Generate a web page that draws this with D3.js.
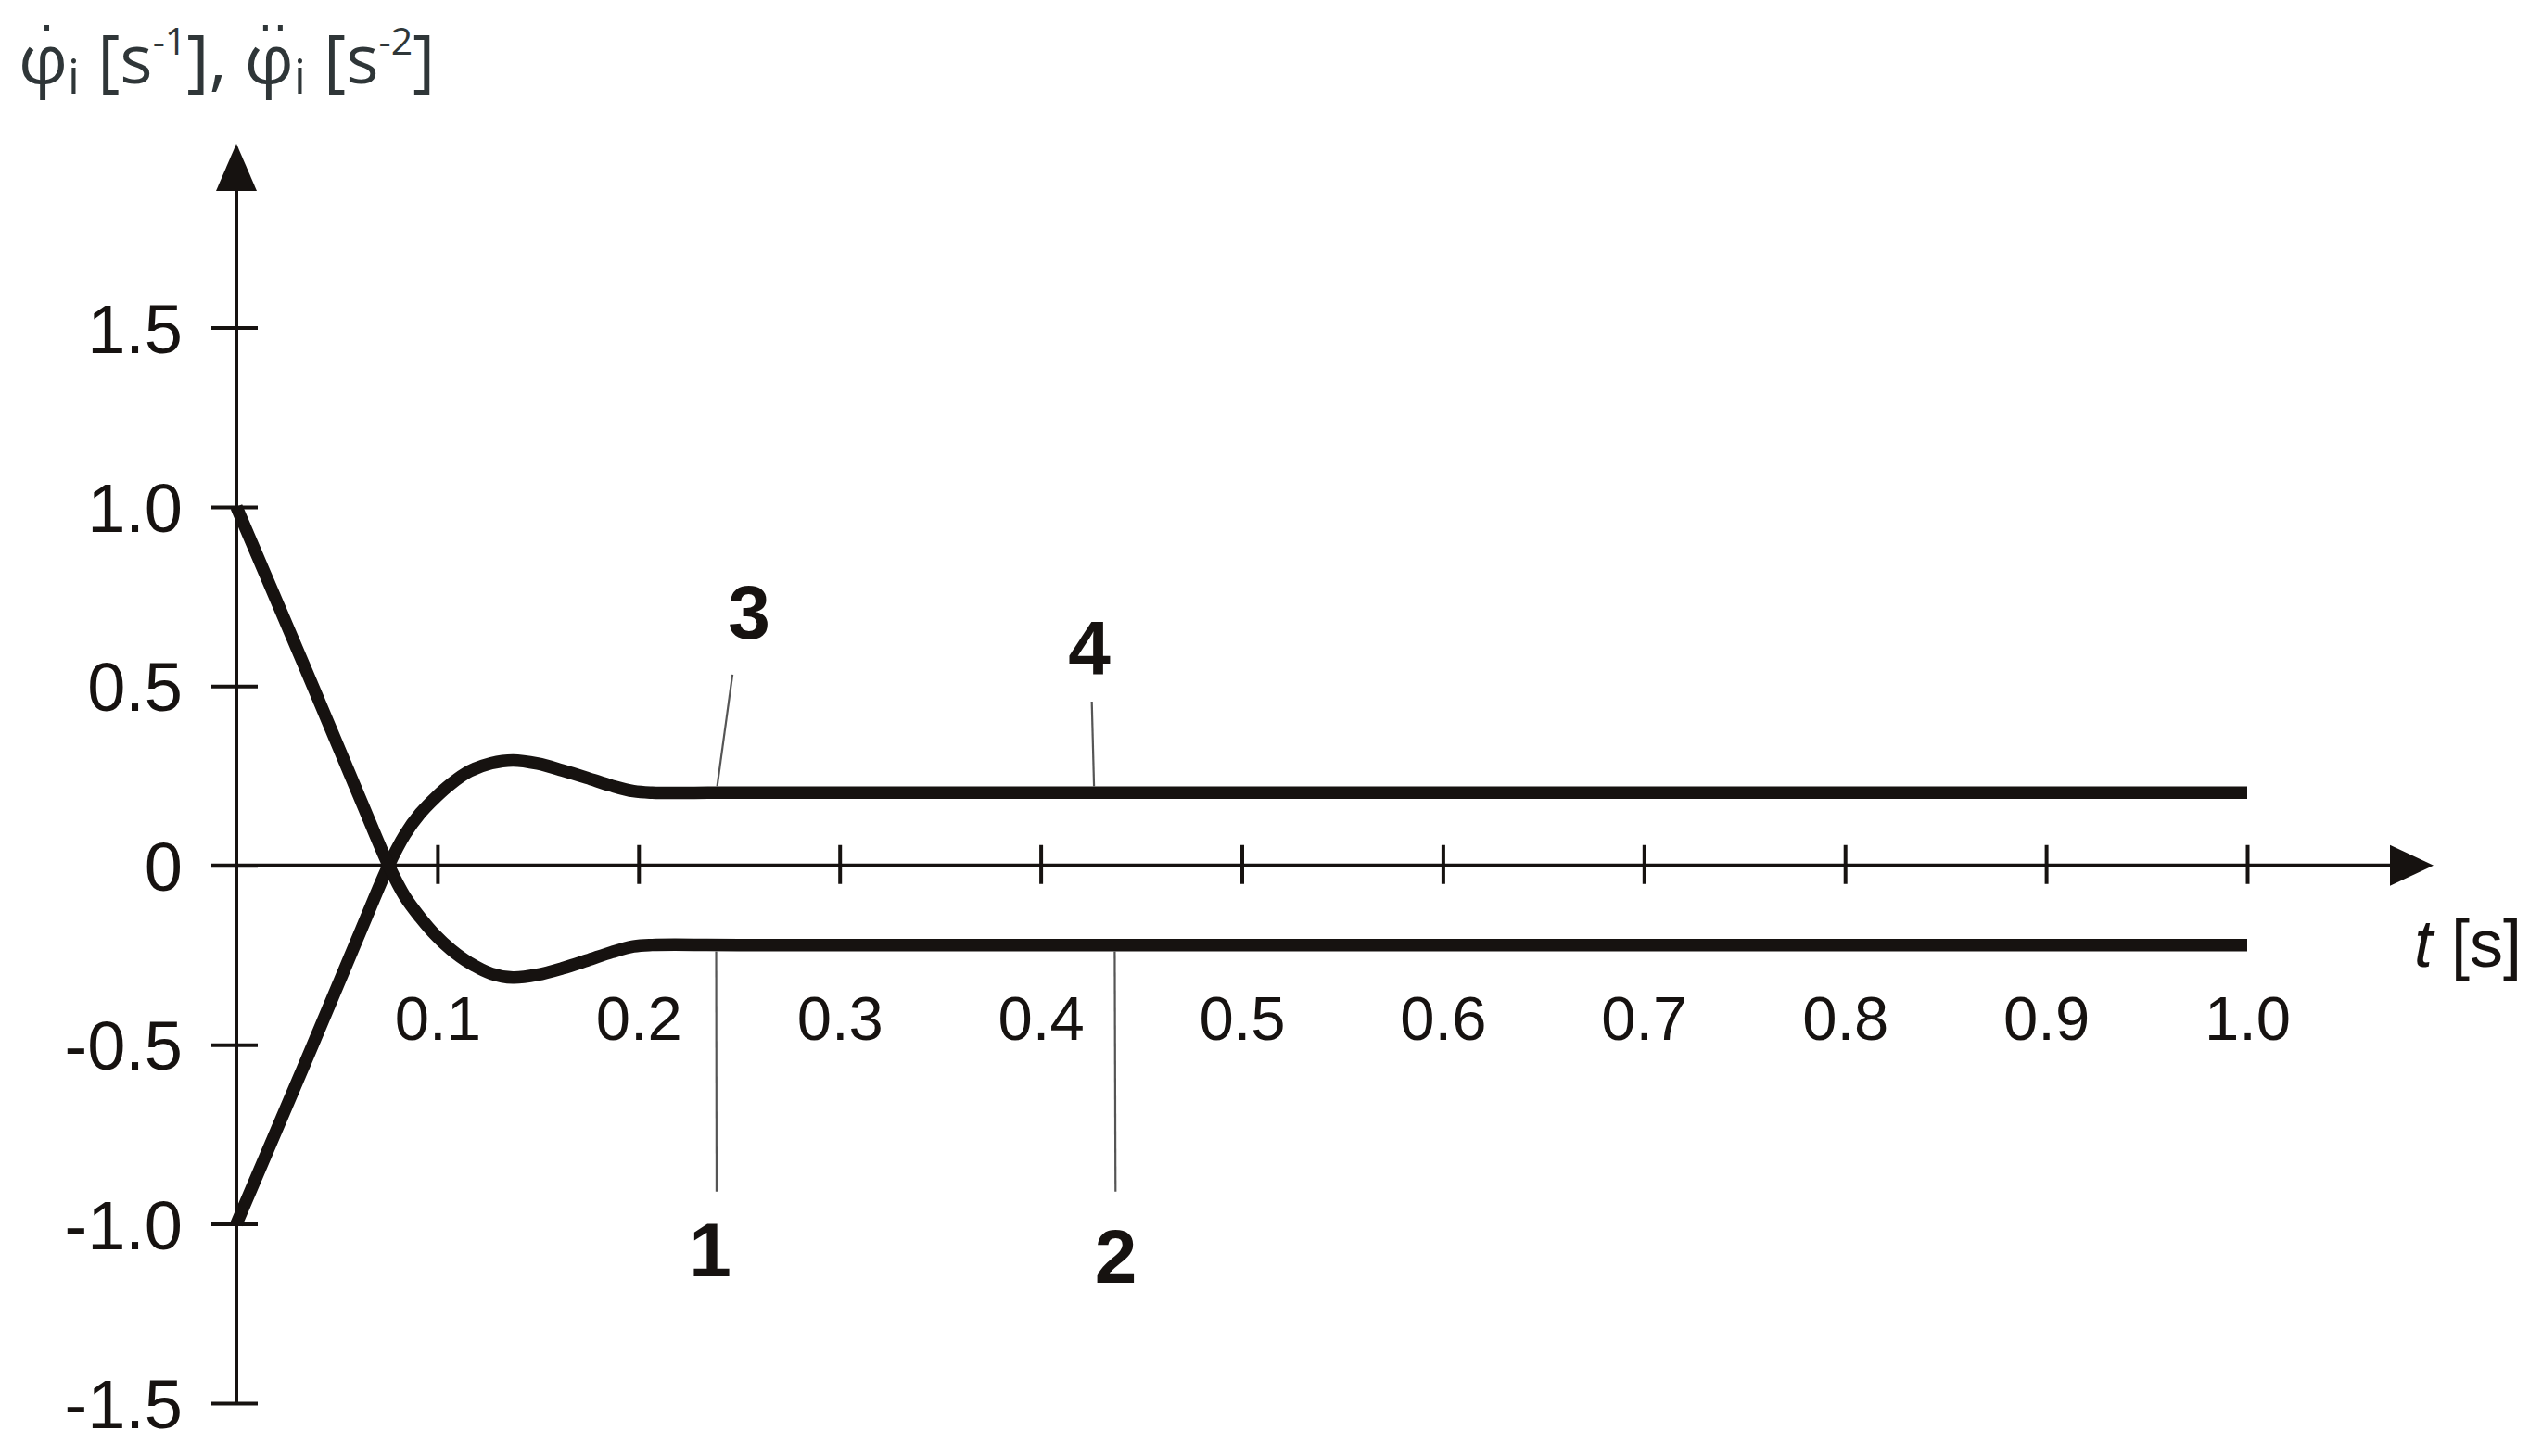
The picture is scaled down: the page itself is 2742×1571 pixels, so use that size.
<!DOCTYPE html>
<html>
<head>
<meta charset="utf-8">
<script src="https://cdn.jsdelivr.net/npm/d3@7"></script>
<style>
  body { margin: 0; background: #fff; }
</style>
</head>
<body>
<svg id="chart" width="2742" height="1571"></svg>
<script>
// tick values and labels
const tTicks = [0.1, 0.2, 0.3, 0.4, 0.5, 0.6, 0.7, 0.8, 0.9, 1.0];
const tTickLabels = ["0.1", "0.2", "0.3", "0.4", "0.5", "0.6", "0.7", "0.8", "0.9", "1.0"];
const vTicks = [-1.5, -1.0, -0.5, 0, 0.5, 1.0, 1.5];
const vTickLabels = ["-1.5", "-1.0", "-0.5", "0", "0.5", "1.0", "1.5"];

// the two curves
const tCurve = [0, 0.035, 0.062, 0.0757, 0.0838, 0.0914, 0.0991, 0.1068, 0.116, 0.1268,
  0.1375, 0.1498, 0.1621, 0.1744, 0.1867, 0.1975, 0.2067, 0.25, 1.0];
const vRising = [-1.0, -0.54, -0.18, 0, 0.086, 0.145, 0.19, 0.228, 0.263, 0.285,
  0.293, 0.284, 0.265, 0.244, 0.222, 0.207, 0.203, 0.203, 0.203];
const vFalling = [1.0, 0.54, 0.18, 0, -0.087, -0.145, -0.195, -0.235, -0.272, -0.302,
  -0.313, -0.305, -0.287, -0.265, -0.242, -0.226, -0.222, -0.222, -0.222];

// numbered callouts: which curve, where the leader starts and ends, where the number sits
const markNames = ["1", "2", "3", "4"];
const markCurve = ["falling", "falling", "rising", "rising"];
const markT = [0.2386, 0.4368, 0.2391, 0.4265];
const markLeaderT = [0.2388, 0.4372, 0.2467, 0.4254];
const markLeaderV = [-0.91, -0.91, 0.532, 0.457];
const markLabelT = [0.2356, 0.4373, 0.255, 0.4242];
const markLabelV = [-1.147, -1.165, 0.632, 0.534];

const svg = d3.select("#chart");
const ink = "#161210";
const numFont = "'Liberation Sans', Arial, sans-serif";
const strokeW = 13.5;

const x = d3.scaleLinear().domain([0, 1]).range([255, 2424]);
const y = d3.scaleLinear().domain([-1.5, 1.5]).range([1514, 353.5]);

// y axis: line with arrow, ticks crossing the line
const y0 = y(0), x0 = x(0);
svg.append("line")
  .attr("x1", x0).attr("x2", x0)
  .attr("y1", y(-1.5)).attr("y2", 200)
  .attr("stroke", ink).attr("stroke-width", 4);
svg.append("path")
  .attr("d", `M${x0},155 L${x0 - 22},206 L${x0 + 22},206 Z`)
  .attr("fill", ink);

const yAxis = svg.append("g")
  .attr("transform", `translate(${x0},0)`)
  .call(d3.axisLeft(y).tickValues(vTicks).tickFormat((d, i) => vTickLabels[i]).tickSize(0));
yAxis.select(".domain").remove();
yAxis.selectAll(".tick line")
  .attr("x1", -27).attr("x2", 23)
  .attr("stroke", ink).attr("stroke-width", 4);
yAxis.selectAll(".tick text")
  .attr("x", -58).attr("dy", "0.36em")
  .attr("font-family", numFont).attr("font-size", 74)
  .attr("fill", ink);

// x axis
svg.append("line")
  .attr("x1", 228).attr("x2", 2590)
  .attr("y1", y0).attr("y2", y0)
  .attr("stroke", ink).attr("stroke-width", 4);
svg.append("path")
  .attr("d", `M2625,${y0} L2578,${y0 - 22} L2578,${y0 + 22} Z`)
  .attr("fill", ink);

const xAxis = svg.append("g")
  .attr("transform", `translate(0,${y0})`)
  .call(d3.axisBottom(x).tickValues(tTicks).tickFormat((d, i) => tTickLabels[i]).tickSize(0));
xAxis.select(".domain").remove();
xAxis.selectAll(".tick line")
  .attr("y1", -22).attr("y2", 20)
  .attr("stroke", ink).attr("stroke-width", 4);
xAxis.selectAll(".tick text")
  .attr("y", 188).attr("dy", null)
  .attr("font-family", numFont).attr("font-size", 67)
  .attr("fill", ink);

// axis titles
const titleColor = "#2f3638";
const title = svg.append("text")
  .attr("x", 20).attr("y", 90)
  .attr("font-family", "'Open Sans', 'Noto Sans', sans-serif")
  .attr("font-size", 74)
  .attr("fill", titleColor);
title.append("tspan").text("\u03C6");
title.append("tspan").attr("font-size", 51).attr("dy", 11).text("i");
title.append("tspan").attr("dy", -11).text(" [s");
title.append("tspan").attr("font-size", 41).attr("dy", -31).text("-1");
title.append("tspan").attr("dy", 31).text("], \u03C6");
title.append("tspan").attr("font-size", 51).attr("dy", 11).text("i");
title.append("tspan").attr("dy", -11).text(" [s");
title.append("tspan").attr("font-size", 41).attr("dy", -31).text("-2");
title.append("tspan").attr("dy", 31).text("]");

// time-derivative dots over the two phi glyphs (one dot, then two)
const titleText = title.text();
const phiIdx = [];
for (let i = 0; i < titleText.length; i++) if (titleText[i] === "\u03C6") phiIdx.push(i);
phiIdx.forEach((ci, k) => {
  const box = title.node().getExtentOfChar(ci);
  const cx = box.x + box.width / 2 + 4;
  const offs = k === 0 ? [0] : [-8, 8];
  offs.forEach(o => {
    svg.append("rect")
      .attr("x", cx + o - 2.5).attr("y", 27)
      .attr("width", 5).attr("height", 6)
      .attr("fill", titleColor);
  });
});

const tLabel = svg.append("text")
  .attr("x", 2604).attr("y", 1043)
  .attr("font-family", numFont).attr("font-size", 72)
  .attr("fill", ink);
tLabel.append("tspan").attr("font-style", "italic").text("t");
tLabel.append("tspan").text(" [s]");

// curves
const line = d3.line()
  .x(d => x(d[0]))
  .y(d => y(d[1]))
  .curve(d3.curveCatmullRom.alpha(0.5));
const curves = { rising: d3.zip(tCurve, vRising), falling: d3.zip(tCurve, vFalling) };

svg.append("g")
  .selectAll("path")
  .data([curves.rising, curves.falling])
  .join("path")
  .attr("d", line)
  .attr("fill", "none")
  .attr("stroke", ink)
  .attr("stroke-width", strokeW)
  .attr("stroke-linejoin", "round");

// callouts
const flatLevel = { rising: vRising[vRising.length - 1], falling: vFalling[vFalling.length - 1] };
const marks = markNames.map((name, i) => ({
  name: name,
  curve: markCurve[i],
  t: markT[i],
  lt: markLeaderT[i],
  lv: markLeaderV[i],
  nt: markLabelT[i],
  nv: markLabelV[i]
}));

svg.append("g")
  .selectAll("line")
  .data(marks)
  .join("line")
  .attr("x1", d => x(d.t))
  .attr("y1", d => y(flatLevel[d.curve]) + (d.curve === "rising" ? -strokeW / 2 : strokeW / 2))
  .attr("x2", d => x(d.lt))
  .attr("y2", d => y(d.lv))
  .attr("stroke", "#555")
  .attr("stroke-width", 2.2);

svg.append("g")
  .selectAll("text")
  .data(marks)
  .join("text")
  .attr("x", d => x(d.nt))
  .attr("y", d => y(d.nv))
  .attr("text-anchor", "middle")
  .attr("font-family", numFont)
  .attr("font-weight", "bold")
  .attr("font-size", 82)
  .attr("fill", ink)
  .text(d => d.name);
</script>
</body>
</html>
